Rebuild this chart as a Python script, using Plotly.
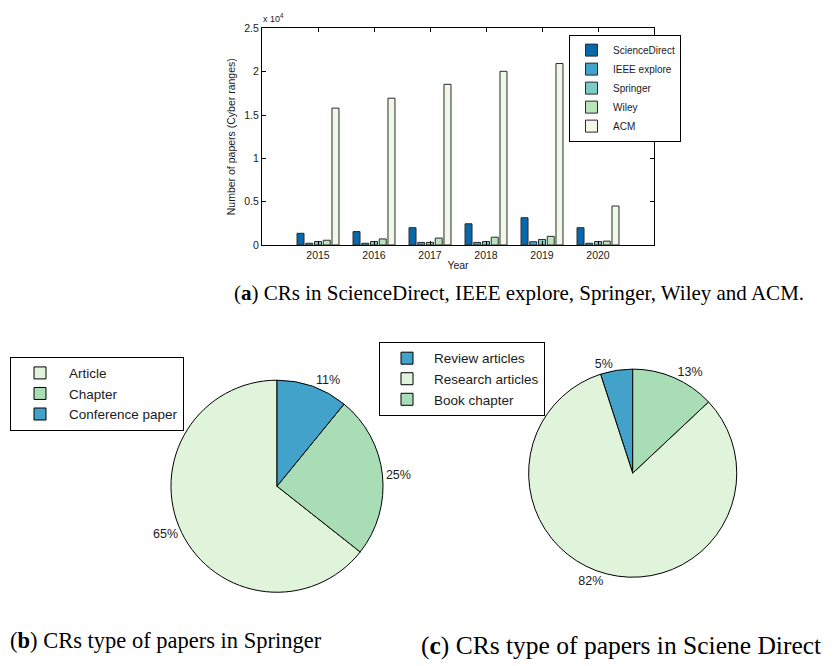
import plotly.graph_objects as go

# ---- data: bar chart (a) ----
years = [2015, 2016, 2017, 2018, 2019, 2020]
science_direct = [1350, 1550, 2000, 2450, 3150, 2000]
ieee_explore = [200, 200, 300, 300, 380, 200]
springer = [400, 400, 300, 400, 640, 400]
wiley = [550, 700, 800, 900, 1000, 450]
acm = [15800, 16950, 18550, 20050, 20950, 4500]
bar_series = ["ScienceDirect", "IEEE explore", "Springer", "Wiley", "ACM"]
bar_colors = ["#0868ac", "#43a2ca", "#7bccc4", "#bae4bc", "#f0f9e8"]
ytick_vals = [0, 5000, 10000, 15000, 20000, 25000]
ytick_text = ["0", "0.5", "1", "1.5", "2", "2.5"]

# ---- data: pie (b) Springer ----
springer_labels = ["Article", "Chapter", "Conference paper"]
springer_values = [65, 25, 11]
springer_colors = ["#e0f3db", "#a8ddb5", "#43a2ca"]

# ---- data: pie (c) ScienceDirect ----
sd_labels = ["Review articles", "Research articles", "Book chapter"]
sd_values = [5, 82, 13]
sd_colors = ["#43a2ca", "#e0f3db", "#a8ddb5"]

# page body has an 8px default margin: draw a figure that fills the rest
OFF = 8
W, H = 838 - OFF, 666 - OFF
sans = "Liberation Sans, Arial, sans-serif"
serif = "Liberation Serif, Times New Roman, serif"
txt = "#1a1a1a"


def px(x):
    return (x - OFF) / W


def py(y):
    return 1 - (y - OFF) / H


def matlab_start(values):
    # first slice starts at 12 o'clock and runs counterclockwise (MATLAB style)
    r = 360.0 * (1 - values[0] / sum(values))
    return r - 360 if r > 180 else r


fig = go.Figure()

for name, vals, col in zip(bar_series, [science_direct, ieee_explore, springer, wiley, acm], bar_colors):
    fig.add_trace(go.Bar(
        x=years, y=vals, name=name,
        marker=dict(color=col, line=dict(color="#2a2a2a", width=1)),
        legend="legend",
    ))

fig.add_trace(go.Pie(
    labels=springer_labels, values=springer_values,
    marker=dict(colors=springer_colors, line=dict(color="black", width=1)),
    sort=False, direction="counterclockwise", rotation=matlab_start(springer_values),
    texttemplate="%{value}%", textposition="outside",
    textfont=dict(family=sans, size=12.5, color=txt),
    domain=dict(x=[px(169), px(385)], y=[py(597), py(381)]),
    legend="legend2", hoverinfo="label+value",
))

fig.add_trace(go.Pie(
    labels=sd_labels, values=sd_values,
    marker=dict(colors=sd_colors, line=dict(color="black", width=1)),
    sort=False, direction="counterclockwise", rotation=matlab_start(sd_values),
    texttemplate="%{value}%", textposition="outside",
    textfont=dict(family=sans, size=12.5, color=txt),
    domain=dict(x=[px(526.7), px(738.7)], y=[py(581.7), py(369.7)]),
    legend="legend3", hoverinfo="label+value",
))

axis_common = dict(
    showline=True, linecolor="black", linewidth=1, mirror="ticks",
    ticks="inside", ticklen=4, tickcolor="black",
    showgrid=False, zeroline=False,
    tickfont=dict(family=sans, size=10.5, color=txt),
)

fig.update_layout(
    width=W, height=H, autosize=False,
    margin=dict(l=0, r=0, t=0, b=0),
    paper_bgcolor="white", plot_bgcolor="white",
    barmode="group", bargap=0.22, bargroupgap=0.2,
    font=dict(family=sans, color=txt),
    xaxis=dict(
        domain=[px(262), px(654)], range=[2014, 2021],
        tickvals=years, ticktext=[str(y) for y in years],
        title=dict(text="Year", font=dict(family=sans, size=10.5, color=txt), standoff=2),
        **axis_common,
    ),
    yaxis=dict(
        domain=[py(243.3), py(22.7)], range=[0, 25000],
        tickvals=ytick_vals, ticktext=ytick_text,
        title=dict(text="Number of papers (Cyber ranges)", font=dict(family=sans, size=10.5, color=txt), standoff=6),
        **axis_common,
    ),
    legend=dict(
        x=px(569), y=py(29), xanchor="left", yanchor="top",
        bgcolor="white", bordercolor="black", borderwidth=1,
        font=dict(family=sans, size=10, color=txt), tracegroupgap=0, itemwidth=33,
    ),
    legend2=dict(
        x=px(10), y=py(357), xanchor="left", yanchor="top",
        bgcolor="white", bordercolor="black", borderwidth=1,
        font=dict(family=sans, size=13.5, color=txt), tracegroupgap=0, itemwidth=48,
    ),
    legend3=dict(
        x=px(379), y=py(342), xanchor="left", yanchor="top",
        bgcolor="white", bordercolor="black", borderwidth=1,
        font=dict(family=sans, size=13.5, color=txt), tracegroupgap=0, itemwidth=44,
    ),
    annotations=[
        dict(text="x 10<sup>4</sup>", x=px(261), y=py(20), xref="paper", yref="paper",
             xanchor="left", yanchor="bottom", showarrow=False,
             font=dict(family=sans, size=9, color=txt)),
        dict(text="(<b>a</b>) CRs in ScienceDirect, IEEE explore, Springer, Wiley and ACM.",
             x=px(519), y=py(292), xref="paper", yref="paper",
             xanchor="center", yanchor="middle", showarrow=False,
             font=dict(family=serif, size=21, color="black")),
        dict(text="(<b>b</b>) CRs type of papers in Springer",
             x=px(166), y=py(646), xref="paper", yref="paper",
             xanchor="center", yanchor="middle", showarrow=False,
             font=dict(family=serif, size=22.5, color="black")),
        dict(text="(<b>c</b>) CRs type of papers in Sciene Direct",
             x=px(621), y=py(651), xref="paper", yref="paper",
             xanchor="center", yanchor="middle", showarrow=False,
             font=dict(family=serif, size=25.5, color="black")),
    ],
)

fig.write_html("out.html")
